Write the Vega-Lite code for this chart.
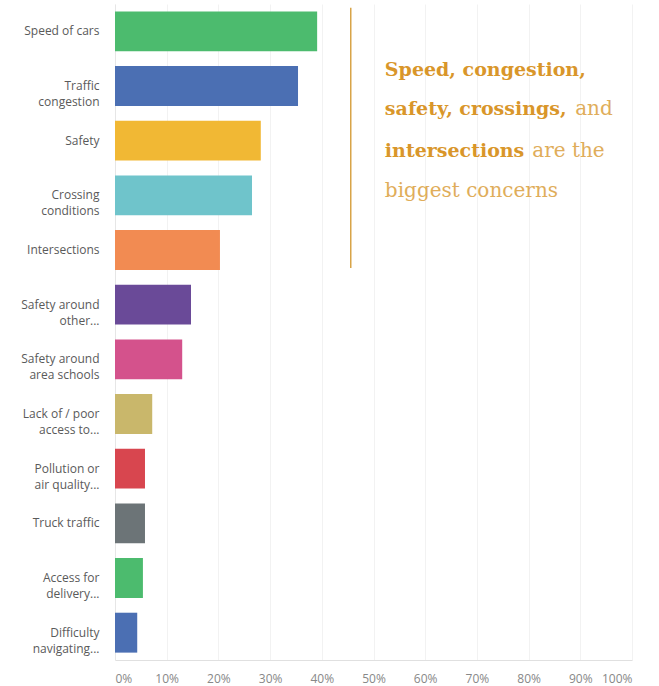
{
  "$schema": "https://vega.github.io/schema/vega-lite/v6.json",
  "width": 517,
  "height": 656,
  "autosize": {"type": "none"},
  "padding": {"left": 115, "top": 4, "right": 27, "bottom": 26},
  "background": "white",
  "config": {"view": {"stroke": null}, "font": "Open Sans"},
  "datasets": {
    "bars": [
      {"label": "Speed of cars", "pct": 39.1},
      {"label": "Traffic|congestion", "pct": 35.4},
      {"label": "Safety", "pct": 28.2},
      {"label": "Crossing|conditions", "pct": 26.5},
      {"label": "Intersections", "pct": 20.3},
      {"label": "Safety around|other...", "pct": 14.7},
      {"label": "Safety around|area schools", "pct": 13.0},
      {"label": "Lack of / poor|access to...", "pct": 7.2},
      {"label": "Pollution or|air quality...", "pct": 5.8},
      {"label": "Truck traffic", "pct": 5.8},
      {"label": "Access for|delivery...", "pct": 5.4},
      {"label": "Difficulty|navigating...", "pct": 4.3}
    ],
    "note": [
      {"x": 52.2, "row": 1.317, "text": "Speed, congestion,", "kind": "bold"},
      {"x": 52.2, "row": 2.03, "text": "safety, crossings,", "kind": "bold"},
      {"x": 89.0, "row": 2.03, "text": "and", "kind": "normal"},
      {"x": 52.2, "row": 2.8, "text": "intersections", "kind": "bold"},
      {"x": 80.7, "row": 2.8, "text": "are the", "kind": "normal"},
      {"x": 52.2, "row": 3.53, "text": "biggest concerns", "kind": "normal"}
    ],
    "rule": [{"x": 45.6, "y1": 0.07, "y2": 4.83}]
  },
  "resolve": {"scale": {"y": "independent", "color": "independent"}},
  "layer": [
    {
      "data": {"name": "bars"},
      "mark": {"type": "bar"},
      "encoding": {
        "y": {
          "field": "label", "type": "nominal", "sort": null,
          "scale": {"paddingInner": 0.27, "paddingOuter": 0.135},
          "axis": {
            "title": null, "ticks": false, "labelPadding": 16,
            "labelExpr": "split(datum.label, '|')",
            "labelFontSize": 12, "labelColor": "#5a5a5a", "labelLineHeight": 16,
            "domainColor": "#e6e6e6", "grid": false, "labelFont": "Open Sans"
          }
        },
        "x": {
          "field": "pct", "type": "quantitative",
          "scale": {"domain": [0, 100]},
          "axis": {
            "title": null, "values": [0,10,20,30,40,50,60,70,80,90,100],
            "labelOverlap": false,
            "labelExpr": "datum.value + '%'", "ticks": false, "labelPadding": 13,
            "labelFontSize": 12, "labelColor": "#888", "domainColor": "#e0e0e0",
            "gridColor": "#f2f2f2", "labelFont": "Open Sans"
          }
        },
        "color": {
          "field": "label", "type": "nominal", "legend": null,
          "scale": {
            "domain": ["Speed of cars", "Traffic|congestion", "Safety", "Crossing|conditions", "Intersections", "Safety around|other...", "Safety around|area schools", "Lack of / poor|access to...", "Pollution or|air quality...", "Truck traffic", "Access for|delivery...", "Difficulty|navigating..."],
            "range": ["#4cbb6e", "#4b6fb3", "#f1b834", "#6fc4cb", "#f28b52", "#6a4a98", "#d4528c", "#c9b76b", "#d8464f", "#6c7477", "#4cbb6e", "#4b6fb3"]
          }
        }
      }
    },
    {
      "data": {"name": "rule"},
      "mark": {"type": "rule", "color": "#d8a448", "strokeWidth": 1.5},
      "encoding": {
        "x": {"field": "x", "type": "quantitative"},
        "y": {"field": "y1", "type": "quantitative", "scale": {"domain": [0, 12], "reverse": true}, "axis": null},
        "y2": {"field": "y2"}
      }
    },
    {
      "data": {"name": "note"},
      "transform": [{"filter": "datum.kind === 'bold'"}],
      "mark": {"type": "text", "align": "left", "baseline": "alphabetic", "font": "DejaVu Serif", "fontSize": 19, "fontWeight": "bold", "color": "#d9962a"},
      "encoding": {
        "x": {"field": "x", "type": "quantitative"},
        "y": {"field": "row", "type": "quantitative", "scale": {"domain": [0, 12], "reverse": true}, "axis": null},
        "text": {"field": "text"}
      }
    },
    {
      "data": {"name": "note"},
      "transform": [{"filter": "datum.kind === 'normal'"}],
      "mark": {"type": "text", "align": "left", "baseline": "alphabetic", "font": "DejaVu Serif", "fontSize": 20, "color": "#e0ad5a"},
      "encoding": {
        "x": {"field": "x", "type": "quantitative"},
        "y": {"field": "row", "type": "quantitative", "scale": {"domain": [0, 12], "reverse": true}, "axis": null},
        "text": {"field": "text"}
      }
    }
  ]
}
